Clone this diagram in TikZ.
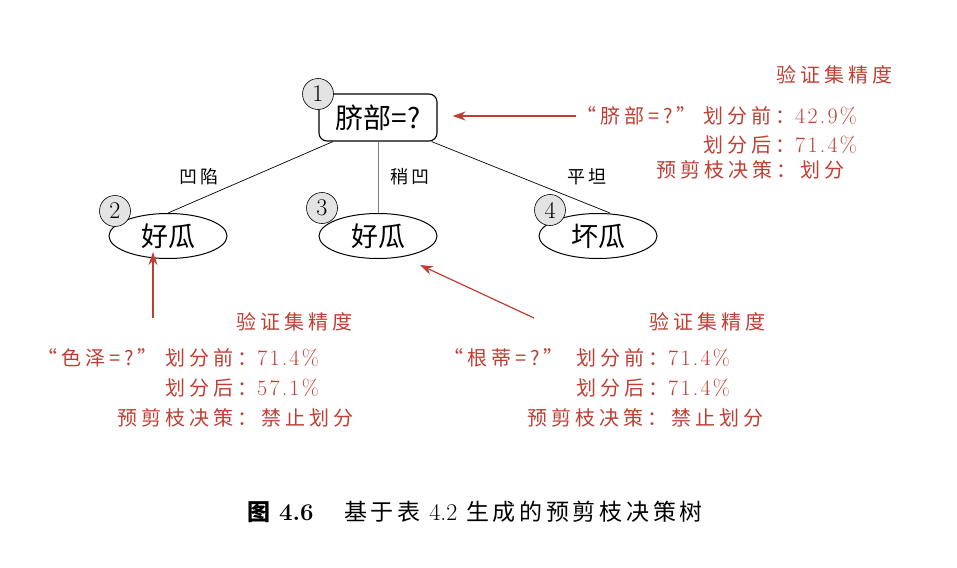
\documentclass[tikz,border=0pt]{standalone}
\usepackage{fontspec}
\newfontfamily\cjk{Noto Sans CJK SC}
\newfontfamily\cjkls[LetterSpace=20]{Noto Sans CJK SC}
\newfontfamily\cjkcap[LetterSpace=16]{Noto Sans CJK SC}
\newfontfamily\numf[LetterSpace=10]{Latin Modern Roman}
\newcommand{\rnum}[1]{{\numf\fontsize{22}{22}\selectfont #1}}
\usetikzlibrary{arrows.meta,shapes.geometric}
\definecolor{redc}{RGB}{190,62,52}
\begin{document}
\begin{tikzpicture}[x=1pt,y=-1pt,
  numc/.style={circle,draw,fill=gray!22,line width=0.6pt,minimum size=31pt,inner sep=0pt,font=\fontsize{24}{24}\selectfont},
  leaf/.style={ellipse,draw,line width=1pt,minimum width=118pt,minimum height=45pt,inner sep=0pt,font=\cjk\fontsize{27}{27}\selectfont},
  rootbox/.style={rectangle,rounded corners=8pt,draw,line width=1.1pt,minimum width=118pt,minimum height=47pt,inner sep=0pt,font=\cjk\fontsize{28}{28}\selectfont},
  edgelbl/.style={inner sep=0pt,font=\cjkls\fontsize{18}{18}\selectfont},
  treeedge/.style={line width=0.7pt},
  redarrow/.style={draw=redc,line width=1.2pt,-{Stealth[length=13pt,width=9pt]}},
  redtxt/.style={text=redc,inner sep=0pt,anchor=west,font=\cjkls\fontsize{20}{20}\selectfont},
  redtitle/.style={text=redc,inner sep=0pt,font=\cjkls\fontsize{20}{20}\selectfont},
  captxt/.style={inner sep=0pt,anchor=west,font=\cjkcap\fontsize{23}{23}\selectfont}]
\useasboundingbox (0,0) rectangle (957,567);

% tree nodes
\node[rootbox] (root) at (378,117.5) {脐部=?};
\node[leaf] (l2) at (168,236) {好瓜};
\node[leaf] (l3) at (378,236) {好瓜};
\node[leaf] (l4) at (598,236) {坏瓜};

% edges
\draw[treeedge] ([xshift=-45pt]root.south) -- (l2.north);
\draw[treeedge,draw=gray] (root.south) -- (l3.north);
\draw[treeedge] ([xshift=-6pt]root.south east) -- ([xshift=12pt]l4.north);

% number circles
\node[numc] (c1) at (318,94) {1};
\node[numc] (c2) at (115,211) {2};
\node[numc] (c3) at (322,208) {3};
\node[numc] (c4) at (550,210) {4};

% edge labels
\node[edgelbl] (e1) at (199,177) {凹陷};
\node[edgelbl] (e2) at (410,177) {稍凹};
\node[edgelbl] (e3) at (587,177) {平坦};

% top annotation
\node[redtitle] (t1) at (834,75) {验证集精度};
\node[redtxt] (q1) at (576,116) {“脐部=?”};
\node[redtxt] (b1) at (703,116) {划分前：\rnum{42.9\%}};
\node[redtxt] (a1) at (703,145) {划分后：\rnum{71.4\%}};
\node[redtxt] (d1) at (656,170) {预剪枝决策：划分};
\draw[redarrow] (q1.west) -- ([xshift=15pt]root.east |- q1.west);

% left annotation
\node[redtitle] (t2) at (294,322) {验证集精度};
\node[redtxt] (q2) at (37,358) {“色泽=?”};
\node[redtxt] (b2) at (165,358) {划分前：\rnum{71.4\%}};
\node[redtxt] (a2) at (165,388) {划分后：\rnum{57.1\%}};
\node[redtxt] (d2) at (117,418) {预剪枝决策：禁止划分};
\coordinate (s2) at (153,318);
\draw[redarrow] (s2) -- ([yshift=7pt]l2.south -| s2);

% right annotation
\node[redtitle] (t3) at (707,322) {验证集精度};
\node[redtxt] (q3) at (443,358) {“根蒂=?”};
\node[redtxt] (b3) at (576,358) {划分前：\rnum{71.4\%}};
\node[redtxt] (a3) at (576,388) {划分后：\rnum{71.4\%}};
\node[redtxt] (d3) at (527,418) {预剪枝决策：禁止划分};
\coordinate (s3) at (534,318);
\coordinate (e3t) at (420,265);
\draw[redarrow] (s3) -- (e3t);

% caption
\node[captxt] (cap1) at (247,512) {\bfseries 图 \fontspec{Latin Modern Roman}\fontsize{24}{24}\selectfont\bfseries 4.6};
\node[captxt] (cap2) at (344,512) {基于表 {\fontspec{Latin Modern Roman}\fontsize{24}{24}\selectfont 4.2} 生成的预剪枝决策树};
\end{tikzpicture}
\end{document}
